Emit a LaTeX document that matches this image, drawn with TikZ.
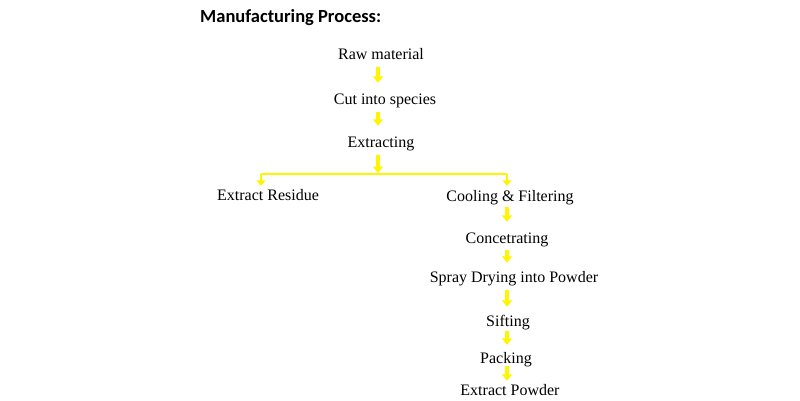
\documentclass[tikz,border=0pt]{standalone}
\usepackage{fontspec}
\setmainfont{Liberation Serif}
\newfontfamily\titlefont{Carlito}
\usetikzlibrary{arrows.meta}
\definecolor{arrowyellow}{RGB}{255,245,0}
\tikzset{
  stepnode/.style={inner sep=0pt, text height=11pt, text depth=4pt, font=\fontsize{16}{18}\selectfont},
  flow/.style={draw=arrowyellow, line width=3.2pt, -{Triangle[width=10pt,length=6.5pt]}, shorten <=6pt, shorten >=8pt},
  branch/.style={draw=arrowyellow, line width=2.6pt},
  tick/.style={draw=arrowyellow, line width=2.8pt, -{Triangle[width=9pt,length=5.5pt]}}
}
\begin{document}
\begin{tikzpicture}[x=1pt,y=-1pt]
\useasboundingbox[fill=white] (0,0) rectangle (800,400);
\node[anchor=west, inner sep=0pt, font=\titlefont\bfseries\fontsize{18.5}{20}\selectfont] (title) at (200,18) {Manufacturing Process:};
\node[stepnode] (raw) at (381,55.5) {Raw material};
\node[stepnode] (cut) at (385,100.5) {Cut into species};
\node[stepnode] (ext) at (381,143.5) {Extracting};
\node[stepnode] (res) at (268,196.5) {Extract Residue};
\node[stepnode] (cool) at (510,197.5) {Cooling \& Filtering};
\node[stepnode] (conc) at (507,239.5) {Concetrating};
\node[stepnode] (spray) at (514,278.5) {Spray Drying into Powder};
\node[stepnode] (sift) at (508,322.5) {Sifting};
\node[stepnode] (pack) at (506,359.5) {Packing};
\node[stepnode] (pow) at (510,391.5) {Extract Powder};
\coordinate (jl) at (261,174);
\coordinate (jm) at (378,174);
\coordinate (jr) at (507,174);
\draw[flow, shorten <=4pt, shorten >=10pt] (raw.south -| jm) -- (cut.north -| jm);
\draw[flow, shorten <=4pt, shorten >=10pt] (cut.south -| jm) -- (ext.north -| jm);
\draw[flow, shorten <=4pt, shorten >=1pt] (ext.south -| jm) -- (jm);
\draw[branch] (jl) -- (jr);
\draw[tick] (jl) -- ([yshift=3pt]jl |- res.north);
\draw[tick] (jr) -- ([yshift=4pt]jr |- cool.north);
\draw[flow, shorten <=2pt, shorten >=10pt] (cool.south -| jr) -- (conc.north -| jr);
\draw[flow, shorten <=3pt, shorten >=8pt] (conc.south -| jr) -- (spray.north -| jr);
\draw[flow, shorten <=4pt, shorten >=8pt] (spray.south -| jr) -- (sift.north -| jr);
\draw[flow, shorten <=1pt, shorten >=7pt] (sift.south -| jr) -- (pack.north -| jr);
\draw[flow, shorten <=-1pt, shorten >=3pt] (pack.south -| jr) -- (pow.north -| jr);
\end{tikzpicture}
\end{document}
